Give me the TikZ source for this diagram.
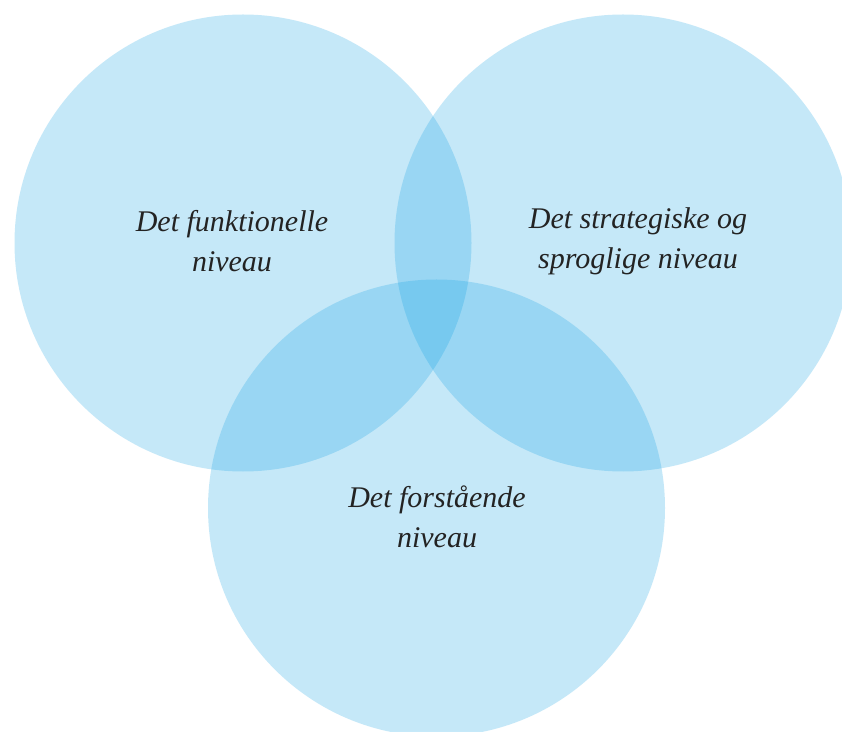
\documentclass[tikz,border=0pt]{standalone}
\usepackage{fontspec}
\setmainfont{Liberation Serif}
\definecolor{venn}{RGB}{8,158,228}
\definecolor{txt}{RGB}{35,35,35}
\begin{document}
\begin{tikzpicture}[x=1pt,y=1pt,
  vcirc/.style={circle,fill=venn,fill opacity=0.23,draw=none,minimum size=457pt,inner sep=0pt},
  lbl/.style={align=center,text=txt,font=\fontsize{30}{40}\selectfont\itshape,text opacity=1}]
\useasboundingbox (0,0) rectangle (842,731);
\clip (0,0) rectangle (842,731);
\fill[white] (0,0) rectangle (842,731);
\node[vcirc] (left) at (243,488) {};
\node[vcirc] (right) at (623,488) {};
\node[vcirc] (bottom) at (436.5,223) {};
\node[lbl] (tl) at (232,490) {Det funktionelle\\niveau};
\node[lbl] (tr) at (638,490) {Det strategiske og\\sproglige niveau};
\node[lbl] (tb) at (437,214) {Det forstående\\niveau};
\end{tikzpicture}
\end{document}
